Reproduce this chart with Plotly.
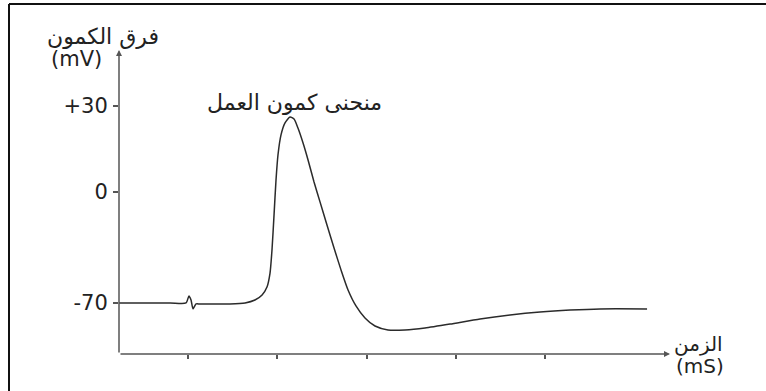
import plotly.graph_objects as go

# Time (ms) and membrane potential (mV)
time_ms = [0.227, 0.80, 0.978, 1.011, 1.034, 1.056, 1.09, 1.134, 1.47, 1.64, 1.75, 1.83,
           1.885, 1.919, 1.941, 1.964, 1.986, 2.008, 2.042, 2.087, 2.143, 2.188, 2.232,
           2.289, 2.345, 2.412, 2.479, 2.557, 2.636, 2.714, 2.793, 2.882, 2.983, 3.095,
           3.241, 3.431, 3.655, 3.936, 4.272, 4.608, 4.944, 5.28, 5.616, 6.143]
potential_mv = [-70, -70, -70, -66.4, -68.5, -73.0, -70.5, -70.5, -70.5, -70, -68.5, -65.9,
                -61.9, -54.8, -43.1, -25.3, -7.6, 5.1, 15.3, 21.4, 24.4, 23.4, 18.8,
                11.2, 2.6, -8.6, -18.7, -30.4, -42.1, -53.2, -63.4, -71.5, -77.6, -81.7,
                -83.7, -83.7, -82.7, -80.7, -78.1, -76.1, -74.6, -73.6, -73.0, -73.0]

# Tick marks (the drawing is not to scale on the voltage axis)
y_tick_vals = [30, -13.6, -70]
y_tick_text = ["+30", "0", "-70"]
x_tick_vals = [1, 2, 3, 4, 5]

y_title = "فرق الكمون"
y_unit = "(mV)"
x_title = "الزمن"
x_unit = "(mS)"
curve_label = "منحنى كمون العمل"

X_MIN, X_MAX = 0.227, 6.40
Y_MIN, Y_MAX = -95.9, 58.4

W, H = 766, 391
FONT = "DejaVu Sans"
AX_COL = "#555555"


def px(xp):
    return xp / W


def py(yp):
    return 1 - yp / H


fig = go.Figure()
fig.add_trace(go.Scatter(x=time_ms, y=potential_mv, mode="lines",
                         line=dict(color="#2b2b2b", width=1.5, shape="spline", smoothing=0.6),
                         hoverinfo="skip", showlegend=False))

fig.update_layout(
    width=W, height=H,
    margin=dict(l=0, r=0, t=0, b=0, autoexpand=False),
    paper_bgcolor="white", plot_bgcolor="white",
    font=dict(family=FONT, color="#222222"),
    xaxis=dict(domain=[px(119), px(670)], range=[X_MIN, X_MAX], showgrid=False, automargin=False,
               zeroline=False, showline=False, tickvals=x_tick_vals, ticktext=[""] * 5,
               ticks="outside", ticklen=4, tickcolor=AX_COL, tickwidth=1.5),
    yaxis=dict(domain=[py(354), py(50)], range=[Y_MIN, Y_MAX], showgrid=False,
               automargin=False,
               zeroline=False, showline=False, tickvals=y_tick_vals, ticktext=y_tick_text,
               ticks="outside", ticklen=5, tickcolor=AX_COL, tickwidth=1.5,
               tickfont=dict(size=21, color="#222222"), ticklabelstandoff=1),
)

# Axes drawn as arrows
fig.add_annotation(x=X_MAX, y=Y_MIN, ax=X_MIN, ay=Y_MIN, xref="x", yref="y", axref="x", ayref="y",
                   showarrow=True, arrowhead=2, arrowsize=0.8, arrowwidth=1.5, arrowcolor=AX_COL, text="")
fig.add_annotation(x=X_MIN, y=Y_MAX, ax=X_MIN, ay=Y_MIN, xref="x", yref="y", axref="x", ayref="y",
                   showarrow=True, arrowhead=2, arrowsize=0.8, arrowwidth=1.5, arrowcolor=AX_COL, text="")

# Text labels
fig.add_annotation(x=px(45), y=py(37), xref="paper", yref="paper", text=y_title, showarrow=False,
                   xanchor="left", yanchor="middle", font=dict(size=22))
fig.add_annotation(x=px(49), y=py(59), xref="paper", yref="paper", text=y_unit, showarrow=False,
                   xanchor="left", yanchor="middle", font=dict(size=21))
fig.add_annotation(x=px(205), y=py(102), xref="paper", yref="paper", text=curve_label, showarrow=False,
                   xanchor="left", yanchor="middle", font=dict(size=22))
fig.add_annotation(x=px(672), y=py(344), xref="paper", yref="paper", text=x_title, showarrow=False,
                   xanchor="left", yanchor="middle", font=dict(size=20))
fig.add_annotation(x=px(674), y=py(366), xref="paper", yref="paper", text=x_unit, showarrow=False,
                   xanchor="left", yanchor="middle", font=dict(size=20))

# Picture frame (left and top edges)
fig.add_shape(type="line", xref="paper", yref="paper", x0=px(9), x1=px(9), y0=0, y1=py(4),
              line=dict(color="#111111", width=2))
fig.add_shape(type="line", xref="paper", yref="paper", x0=px(9), x1=1, y0=py(4), y1=py(4),
              line=dict(color="#111111", width=2))

fig.write_html("out.html",
               config={"displayModeBar": False},
               post_script="document.body.style.margin='0px';document.body.style.overflow='hidden';")
